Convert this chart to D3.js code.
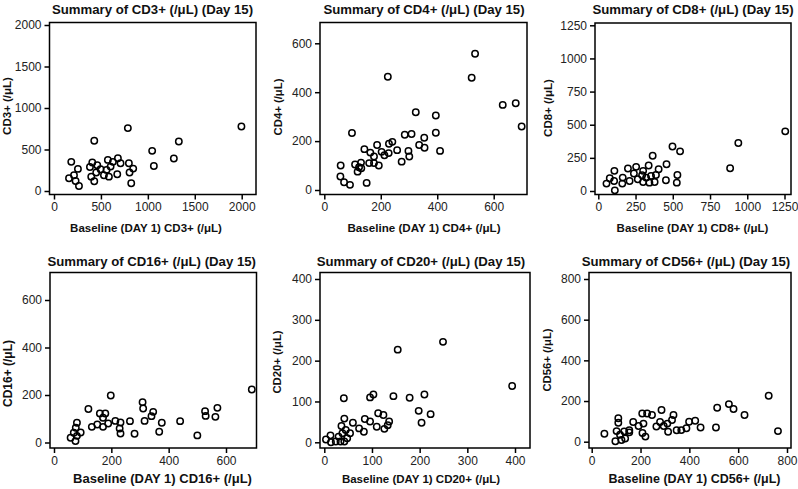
<!DOCTYPE html>
<html>
<head>
<meta charset="utf-8">
<script src="https://cdn.jsdelivr.net/npm/d3@7/dist/d3.min.js"></script>
<style>
  html, body { margin: 0; padding: 0; background: #fff; }
  svg { display: block; font-family: "Liberation Sans", Arial, sans-serif; }
</style>
</head>
<body>
<svg id="chart" width="798" height="489"></svg>
<script>
// ---------------- DATA ----------------
const cd3Base = [160,184,213,230,255,266,383,408,397,429,429,450,461,496,532,560,574,585,603,628,674,681,709,787,798,805,823,844,1046,1064,1277,1330,1997];
const cd3Day15 = [153,351,190,121,266,60,290,343,173,605,117,222,310,262,190,254,375,173,294,351,202,395,335,758,335,222,93,270,484,302,391,597,778];
const cd3Ticks = [0,500,1000,1500,2000];

const cd4Base = [58,57,70,91,98,109,118,123,130,131,142,150,159,163,176,176,187,193,203,213,225,228,229,241,258,274,285,298,301,309,324,336,354,355,395,395,410,522,534,632,678,699];
const cd4Day15 = [100,55,32,21,233,104,75,93,112,89,167,29,110,153,110,137,184,100,156,142,463,151,189,197,163,116,226,160,137,229,318,184,214,173,305,234,160,459,557,348,355,260];
const cd4Ticks = [0,200,400,600];

const cd8Base = [55,77,106,108,111,161,164,199,210,239,254,265,294,301,301,321,338,343,354,365,378,387,405,454,458,498,527,531,549,885,940,1255];
const cd8Day15 = [56,96,76,152,5,56,101,170,76,132,182,89,119,68,152,101,192,63,114,266,68,121,164,81,202,336,63,121,299,172,362,450];
const cd8Ticks = [0,250,500,750,1000,1250];

const cd16Base = [58,69,75,76,80,80,93,120,132,151,160,171,171,179,189,198,214,232,229,232,265,281,309,311,316,340,346,367,376,440,500,527,529,563,570,690];
const cd16Day15 = [20,41,6,62,28,83,42,141,66,76,122,66,104,122,80,198,91,84,59,38,90,37,170,143,91,111,129,45,83,90,30,132,112,108,146,223];
const cd16Ticks = [0,200,400,600];

const cd20Base = [3.5,13,14,24,30,34,36,41,38,42,42,45,48,54,60,73,83,85,96,96,103,110,113,124,126,133,136,145,154,179,198,204,210,223,249,394];
const cd20Day15 = [7,17,0,2,14,2,40,108,22,58,2,30,10,22,48,34,26,57,51,110,117,38,71,67,33,42,51,113,227,109,77,48,117,69,246,138];
const cd20Ticks = [0,100,200,300,400];

const cd56Base = [52,97,102,109,109,116,122,133,137,154,154,170,192,207,208,212,220,227,247,265,280,286,295,310,313,329,335,348,367,388,399,424,446,509,514,562,581,626,725,763];
const cd56Day15 = [39,2,52,115,93,34,8,51,16,56,46,97,77,139,43,89,25,139,131,75,97,156,77,89,49,107,131,56,57,66,98,103,70,70,167,185,161,131,226,52];
const cd56Ticks = [0,200,400,600,800];

const titles = ["Summary of CD3+ (/μL) (Day 15)","Summary of CD4+ (/μL) (Day 15)","Summary of CD8+ (/μL) (Day 15)",
                "Summary of CD16+ (/μL) (Day 15)","Summary of CD20+ (/μL) (Day 15)","Summary of CD56+ (/μL) (Day 15)"];
const xLabels = ["Baseline (DAY 1) CD3+ (/μL)","Baseline (DAY 1) CD4+ (/μL)","Baseline (DAY 1) CD8+ (/μL)",
                 "Baseline (DAY 1) CD16+ (/μL)","Baseline (DAY 1) CD20+ (/μL)","Baseline (DAY 1) CD56+ (/μL)"];
const yLabels = ["CD3+ (/μL)","CD4+ (/μL)","CD8+ (/μL)","CD16+ (/μL)","CD20+ (/μL)","CD56+ (/μL)"];

// ---------------- LAYOUT ----------------
const panels = [
  {xs: cd3Base,  ys: cd3Day15,  ticks: cd3Ticks,  frame:[49.5,22.5,256,194.5], xr:[54,241.7],   yr:[191,25],
   title:[152.5,13.5], xl:[146,231.5,11.5], yl:[7,106,11.5]},
  {xs: cd4Base,  ys: cd4Day15,  ticks: cd4Ticks,  frame:[320,22.5,527,194.5],  xr:[324.3,493.7], yr:[190,43.3],
   title:[424,13.5], xl:[424,231.5,11.6], yl:[278,107,11.3]},
  {xs: cd8Base,  ys: cd8Day15,  ticks: cd8Ticks,  frame:[595,23,791,194.5],    xr:[598.3,784.5], yr:[191,25.3],
   title:[693,13.5], xl:[692.5,231.5,11.5], yl:[548,108,11.5]},
  {xs: cd16Base, ys: cd16Day15, ticks: cd16Ticks, frame:[50,272.5,256.5,448],  xr:[54,226],      yr:[442.5,300],
   title:[151.7,265.7], xl:[162.5,482.7,13], yl:[7.5,373.5,12]},
  {xs: cd20Base, ys: cd20Day15, ticks: cd20Ticks, frame:[320,272.5,530,448],   xr:[324.3,515],   yr:[442.3,279],
   title:[421,265.7], xl:[421,482.7,11.5], yl:[277.5,362,11.3]},
  {xs: cd56Base, ys: cd56Day15, ticks: cd56Ticks, frame:[589,272.5,791,448],   xr:[591.7,787],   yr:[441.7,279],
   title:[686,265.7], xl:[694.5,483,12.5], yl:[547.5,360,11.3]}
];

const svg = d3.select("#chart");

panels.forEach((p, i) => {
  const maxT = p.ticks[p.ticks.length - 1];
  const x = d3.scaleLinear().domain([0, maxT]).range(p.xr);
  const y = d3.scaleLinear().domain([0, maxT]).range(p.yr);
  const [fx0, fy0, fx1, fy1] = p.frame;
  const g = svg.append("g");

  const ya = g.append("g").attr("transform", `translate(${fx0},0)`)
    .call(d3.axisLeft(y).tickValues(p.ticks).tickSize(5).tickPadding(3).tickFormat(d3.format("d")));
  const xa = g.append("g").attr("transform", `translate(0,${fy1})`)
    .call(d3.axisBottom(x).tickValues(p.ticks).tickSize(5).tickPadding(3).tickFormat(d3.format("d")));
  [ya, xa].forEach(a => {
    a.select(".domain").remove();
    a.selectAll(".tick line").attr("stroke", "#000").attr("stroke-width", 1.5);
    a.selectAll(".tick text").attr("fill", "#222").attr("font-size", 12)
      .attr("font-family", "'Liberation Sans', Arial, sans-serif");
  });

  g.append("rect").attr("x", fx0).attr("y", fy0).attr("width", fx1 - fx0).attr("height", fy1 - fy0)
    .attr("fill", "none").attr("stroke", "#000").attr("stroke-width", 1.5);

  g.append("g").selectAll("circle").data(p.xs.map((v, k) => [v, p.ys[k]])).join("circle")
    .attr("cx", d => x(d[0])).attr("cy", d => y(d[1])).attr("r", 3.2)
    .attr("fill", "none").attr("stroke", "#000").attr("stroke-width", 1.5);

  g.append("text").attr("x", p.title[0]).attr("y", p.title[1]).attr("text-anchor", "middle")
    .attr("font-weight", "bold").attr("font-size", 13.2).attr("fill", "#111").text(titles[i]);
  g.append("text").attr("x", p.xl[0]).attr("y", p.xl[1]).attr("text-anchor", "middle")
    .attr("font-weight", "bold").attr("font-size", p.xl[2]).attr("fill", "#111").text(xLabels[i]);
  g.append("text").attr("transform", `translate(${p.yl[0]},${p.yl[1]}) rotate(-90)`)
    .attr("text-anchor", "middle").attr("dy", "0.35em")
    .attr("font-weight", "bold").attr("font-size", p.yl[2]).attr("fill", "#111").text(yLabels[i]);
});
</script>
</body>
</html>
